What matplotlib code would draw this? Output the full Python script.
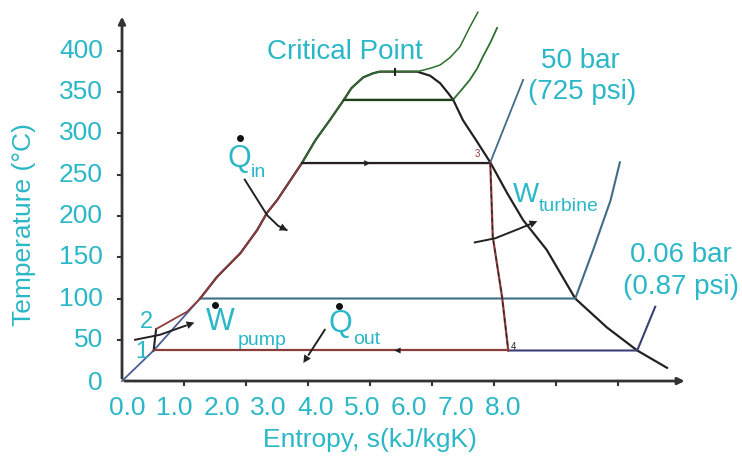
import matplotlib
matplotlib.use("Agg")
import matplotlib.pyplot as plt

plt.rcParams['font.family'] = ['Liberation Sans', 'DejaVu Sans']

TEAL = '#2ab7c7'
RED = '#8e3b3b'
GREEN = '#2f6f2f'
STEEL = '#3f6d86'
NAVY = '#3b4176'
AXIS = '#333333'

# saturation dome (liquid side, top, vapour side)
dome_s = [0.0, 0.51, 1.26, 1.53, 1.91, 2.18, 2.34, 2.50, 2.90, 3.12, 3.35, 3.58, 3.70,
          3.89, 4.05, 4.16, 4.40, 4.76, 4.97, 5.13, 5.26, 5.34, 5.50, 5.71, 5.94,
          6.21, 6.47, 6.85, 7.31, 7.82, 8.31, 8.79]
dome_T = [0, 37, 100, 126, 155, 183, 204, 219, 264, 292, 316, 341, 355,
          368, 373, 375, 375, 375, 370, 361, 349, 341, 316, 292, 265,
          228, 195, 159, 100, 65, 37, 16]

# supercritical / high pressure isobars
sc_s = [2.90, 3.12, 3.35, 3.58, 3.70, 3.89, 4.05, 4.16, 4.40, 4.76, 4.97, 5.13,
        5.29, 5.45, 5.61, 5.74]
sc_T = [264, 292, 316, 341, 355, 368, 373, 375, 375, 375, 379, 383,
        392, 405, 429, 447]
hp_s = [3.58, 5.34, 5.50, 5.61, 5.73, 5.82, 5.94, 6.05]
hp_T = [341, 341, 355, 365, 379, 393, 410, 428]

# isobars in the superheated region
bar50_s = [5.94, 6.21, 6.47]
bar50_T = [265, 316, 365]
bar1_s = [1.26, 7.31, 7.60, 7.88, 8.03]
bar1_T = [100, 100, 159, 219, 265]
bar006_s = [6.23, 8.31, 8.60]
bar006_T = [37, 37, 90]

# Rankine cycle 1-2-3-4
pump_s = [0.51, 0.55]
pump_T = [37, 63]
boil_s = [0.55, 0.81, 1.05, 1.26, 1.53, 1.91, 2.18, 2.34, 2.50, 2.90, 5.94]
boil_T = [63, 74, 84, 100, 126, 155, 183, 204, 219, 264, 264]
turb_s = [5.94, 5.98, 6.13, 6.23]
turb_T = [264, 175, 102, 37]
cond_s = [6.23, 0.51]
cond_T = [37, 37]

# energy flow arrows
qin_s = [1.98, 2.19, 2.34, 2.52, 2.71]
qin_T = [244, 219, 201, 188, 181]
wt_s = [5.69, 6.02, 6.42, 6.74]
wt_T = [168, 173, 185, 195]
qout_s = [3.27, 2.90]
qout_T = [62, 19]
wp_s = [0.21, 0.61, 1.21]
wp_T = [50, 56, 72]

xticks = [0, 1, 2, 3, 4, 5, 6, 7, 8]
xtick_labels = ['0.0', '1.0', '2.0', '3.0', '4.0', '5.0', '6.0', '7.0', '8.0']
yticks = [0, 50, 100, 150, 200, 250, 300, 350, 400]

fig = plt.figure(figsize=(7.42, 4.66), dpi=100)
ax = fig.add_axes([0, 0, 1, 1])
ax.set_xlim(-1.968, 10.0)
ax.set_ylim(-103.0, 461.8)
ax.axis('off')

# axes drawn by hand with arrow tips
ax.annotate('', xy=(9.12, 0), xytext=(0, 0),
            arrowprops=dict(arrowstyle='-|>', color=AXIS, lw=2, mutation_scale=10))
ax.annotate('', xy=(0, 445), xytext=(0, 0),
            arrowprops=dict(arrowstyle='-|>', color=AXIS, lw=2, mutation_scale=10))
for t in yticks[1:]:
    ax.plot([-0.07, 0], [t, t], color=AXIS, lw=1.5)
    ax.text(-0.31, t, str(t), ha='right', va='center', fontsize=19, color=TEAL)
ax.text(-0.31, -3, '0', ha='right', va='center', fontsize=19, color=TEAL)
for t in xticks[1:]:
    ax.plot([t, t], [0, -5], color=AXIS, lw=1.5)
# tick labels run on a tighter spacing than the tick marks
for i, lab in enumerate(xtick_labels):
    ax.text(0.09 + 0.757 * i, -33, lab, ha='center', va='center', fontsize=19, color=TEAL)
ax.text(4.0, -72, 'Entropy, s(kJ/kgK)', ha='center', va='center', fontsize=19, color=TEAL)
ax.text(-1.58, 190, 'Temperature (°C)', ha='center', va='center', rotation=90,
        fontsize=19, color=TEAL)

# dome and isobars
ax.plot(dome_s[:3], dome_T[:3], color='#4a5f95', lw=1.3)
ax.plot(dome_s[2:], dome_T[2:], color='#222222', lw=1.6)
ax.plot(sc_s, sc_T, color=GREEN, lw=1.1)
ax.plot(hp_s, hp_T, color=GREEN, lw=1.3)
ax.plot(hp_s[:2], hp_T[:2], color='#1f3f1f', lw=1.6)
ax.plot(bar50_s, bar50_T, color=STEEL, lw=1.3)
ax.plot(bar1_s, bar1_T, color=STEEL, lw=1.5)
ax.plot(bar006_s, bar006_T, color=NAVY, lw=1.5)

# cycle
ax.plot(pump_s, pump_T, color='#222222', lw=1.5)
ax.plot(boil_s, boil_T, color=RED, lw=1.3)
ax.plot(boil_s[-2:], boil_T[-2:], color='#222222', lw=1.6)
ax.plot(turb_s, turb_T, color=RED, lw=1.6)
ax.plot(turb_s, turb_T, color='#222222', lw=0.8, ls=(0, (4, 3)))
ax.plot(cond_s, cond_T, color=RED, lw=1.6)
ax.annotate('', xy=(4.05, 264), xytext=(3.85, 264),
            arrowprops=dict(arrowstyle='-|>', color='#222222', lw=0, mutation_scale=11))
ax.annotate('', xy=(4.35, 37), xytext=(4.55, 37),
            arrowprops=dict(arrowstyle='-|>', color='#222222', lw=0, mutation_scale=11))
ax.plot([4.40], [375], marker='|', color='#222222', ms=6, mew=1.5)

# heat and work arrows
for xs, ys in [(qin_s, qin_T), (wt_s, wt_T), (qout_s, qout_T), (wp_s, wp_T)]:
    ax.plot(xs[:-1] + [xs[-1] - 0.3 * (xs[-1] - xs[-2])],
            ys[:-1] + [ys[-1] - 0.3 * (ys[-1] - ys[-2])], color='#222222', lw=1.4)
    ax.annotate('', xy=(xs[-1], ys[-1]), xytext=(xs[-2], ys[-2]),
                arrowprops=dict(arrowstyle='-|>', color='#222222', lw=0, mutation_scale=14))

# labels
ax.text(3.60, 399, 'Critical Point', ha='center', va='center', fontsize=20, color=TEAL)
ax.text(7.40, 388, '50 bar', ha='center', va='center', fontsize=20, color=TEAL)
ax.text(7.42, 350, '(725 psi)', ha='center', va='center', fontsize=20, color=TEAL)
ax.text(9.02, 153, '0.06 bar', ha='center', va='center', fontsize=20, color=TEAL)
ax.text(9.02, 114, '(0.87 psi)', ha='center', va='center', fontsize=20, color=TEAL)

ax.text(1.90, 269, 'Q', ha='center', va='center', fontsize=22, color=TEAL)
ax.text(2.07, 253, 'in', ha='left', va='center', fontsize=14, color=TEAL)
ax.text(1.58, 71, 'W', ha='center', va='center', fontsize=22, color=TEAL)
ax.text(1.87, 49, 'pump', ha='left', va='center', fontsize=14, color=TEAL)
ax.text(3.53, 69, 'Q', ha='center', va='center', fontsize=22, color=TEAL)
ax.text(3.72, 50, 'out', ha='left', va='center', fontsize=14, color=TEAL)
ax.text(6.52, 225, 'W', ha='center', va='center', fontsize=20, color=TEAL)
ax.text(6.72, 211, 'turbine', ha='left', va='center', fontsize=14, color=TEAL)
ax.plot([1.90, 1.50, 3.50], [295, 92, 91], ls='none', marker='o', ms=4, color='#111111')

ax.text(0.32, 35, '1', ha='center', va='center', fontsize=17, color=TEAL)
ax.text(0.40, 72, '2', ha='center', va='center', fontsize=17, color=TEAL)
ax.text(5.73, 275, '3', ha='center', va='center', fontsize=7, color=RED)
ax.text(6.31, 41, '4', ha='center', va='center', fontsize=7, color='#222222')

fig.savefig('out.png', dpi=100)
